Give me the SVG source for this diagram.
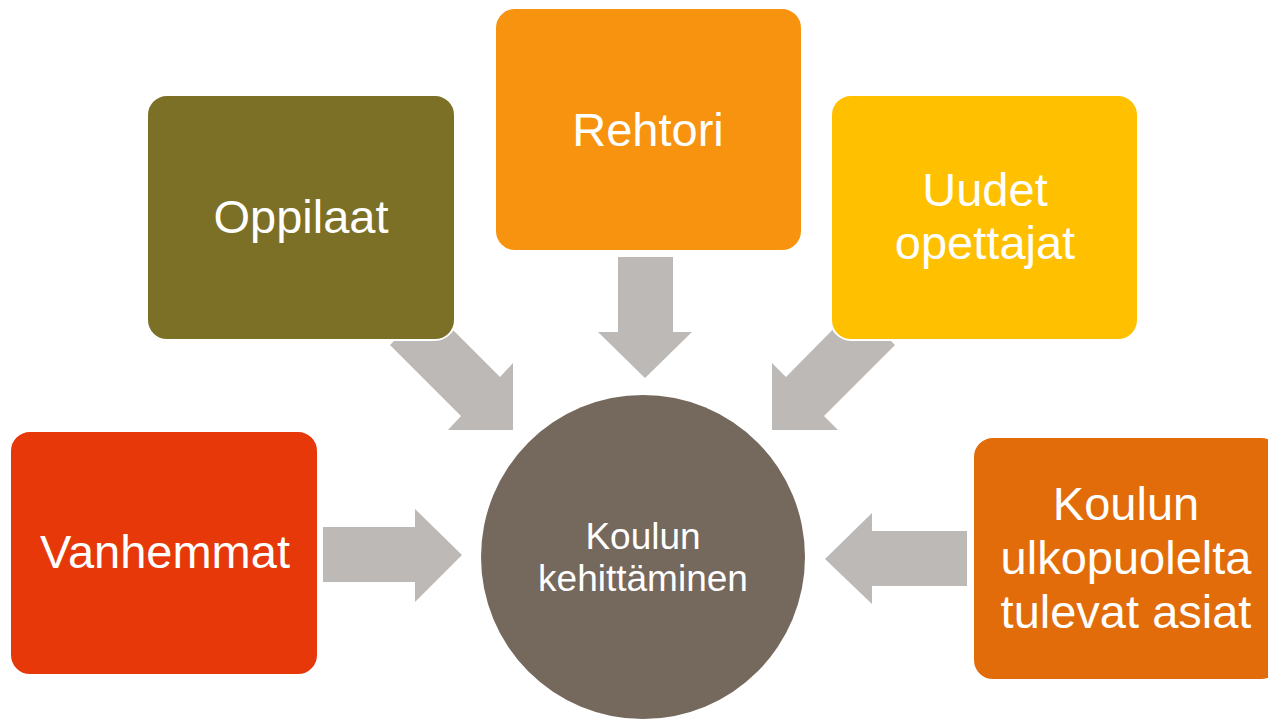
<svg xmlns="http://www.w3.org/2000/svg" width="1268" height="719" viewBox="0 0 1268 719">
<style>
.arrow{fill:#BCB9B6}
.box{stroke:#FFFFFF;stroke-width:2}
.t{font-family:"Liberation Sans",Arial,sans-serif;fill:#FFFFFF;text-anchor:middle;font-size:47px}
.tc{font-family:"Liberation Sans",Arial,sans-serif;fill:#FFFFFF;text-anchor:middle;font-size:37px}
</style>
<rect width="1268" height="719" fill="#FFFFFF"/>
<g id="connectors">
<polygon class="arrow" points="429,306 500,377 513,363 513,430 448,430 461,416 390,345"/>
<polygon class="arrow" points="618,257 673,257 673,332 692,332 645,378 598,332 618,332"/>
<polygon class="arrow" points="856,306 895,345 824,416 838,430 772,430 772,363 786,377"/>
<polygon class="arrow" points="323,527 415,527 415,509 462,555 415,602 415,582 323,582"/>
<polygon class="arrow" points="967,531 872,531 872,513 825,559 872,604 872,586 967,586"/>
</g>
<g id="center">
<circle cx="643" cy="557" r="162" fill="#75685D"/>
<text class="tc" x="643" y="549">Koulun</text>
<text class="tc" x="643" y="591">kehittäminen</text>
</g>
<g id="oppilaat">
<rect class="box" x="147" y="95" width="308" height="245" rx="20" fill="#7B7026"/>
<text class="t" x="301" y="233">Oppilaat</text>
</g>
<g id="rehtori">
<rect class="box" x="495" y="8" width="307" height="243" rx="20" fill="#F7930F"/>
<text class="t" x="648" y="146">Rehtori</text>
</g>
<g id="uudet">
<rect class="box" x="831" y="95" width="307" height="245" rx="20" fill="#FFC000"/>
<text class="t" x="985" y="206">Uudet</text>
<text class="t" x="985" y="259">opettajat</text>
</g>
<g id="vanhemmat">
<rect class="box" x="10" y="431" width="308" height="244" rx="20" fill="#E7380A"/>
<text class="t" x="165" y="568">Vanhemmat</text>
</g>
<g id="ulkopuolelta">
<rect class="box" x="973" y="437" width="308" height="243" rx="20" fill="#E26C09"/>
<text class="t" x="1126" y="520">Koulun</text>
<text class="t" x="1126" y="574">ulkopuolelta</text>
<text class="t" x="1126" y="628">tulevat asiat</text>
</g>
</svg>
